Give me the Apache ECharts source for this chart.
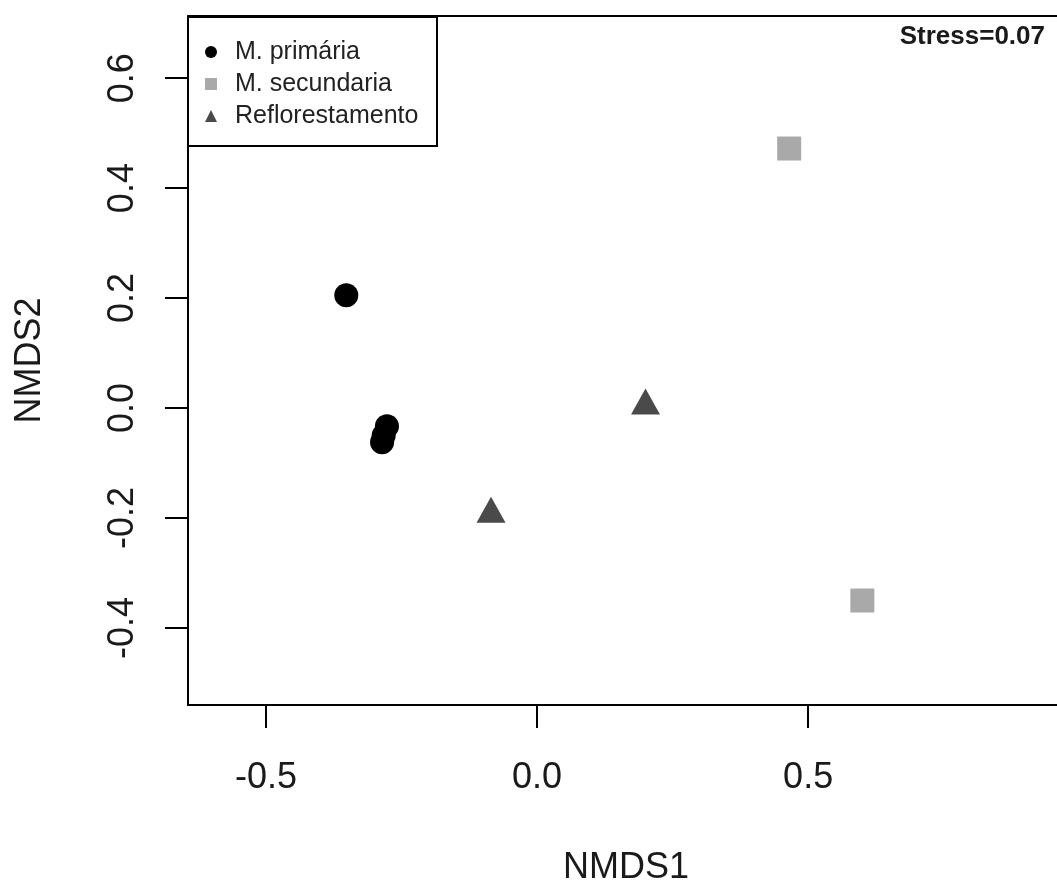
<!DOCTYPE html>
<html>
<head>
<meta charset="utf-8">
<script src="https://cdn.jsdelivr.net/npm/echarts@6/dist/echarts.min.js"></script>
<style>
html,body{margin:0;padding:0;background:#fff;overflow:hidden;}
#chart{width:1057px;height:882px;}
</style>
</head>
<body>
<div id="chart"></div>
<script>
// Data (NMDS1, NMDS2)
const primaria = [[-0.352, 0.205], [-0.277, -0.033], [-0.283, -0.050], [-0.286, -0.062]];
const secundaria = [[0.465, 0.472], [0.600, -0.350]];
const reflorestamento = [[0.200, 0.012], [-0.085, -0.185]];
const xTicks = [-0.5, 0.0, 0.5];
const yTicks = [-0.4, -0.2, 0.0, 0.2, 0.4, 0.6];
const seriesNames = ['M. primária', 'M. secundaria', 'Reflorestamento'];
const stressLabel = 'Stress=0.07';

const FONT = 'Liberation Sans, Arial, sans-serif';
const chart = echarts.init(document.getElementById('chart'), null, {renderer: 'canvas'});

const X_MIN = -0.644, X_MAX = 0.972;
const option = {
  backgroundColor: '#ffffff',
  animation: false,
  grid: {
    left: 188, top: 16, width: 876, bottom: 177,
    outerBoundsMode: 'none', containLabel: false, show: false
  },
  xAxis: [{
    type: 'value',
    min: X_MIN, max: X_MAX,
    name: 'NMDS1', nameLocation: 'middle', nameGap: 145,
    nameTextStyle: {fontFamily: FONT, fontSize: 36, color: '#1a1a1a'},
    axisLine: {show: true, onZero: false, lineStyle: {color: '#000', width: 2}},
    splitLine: {show: false},
    axisTick: {show: true, inside: false, length: 23, lineStyle: {color: '#000', width: 2}, customValues: xTicks},
    axisLabel: {
      customValues: xTicks, margin: 55, fontFamily: FONT, fontSize: 36, color: '#1a1a1a',
      formatter: v => v.toFixed(1)
    }
  }, {
    type: 'value', position: 'top',
    min: X_MIN, max: X_MAX,
    axisLine: {show: true, onZero: false, lineStyle: {color: '#000', width: 2}},
    splitLine: {show: false}, axisTick: {show: false}, axisLabel: {show: false}
  }],
  yAxis: {
    type: 'value',
    min: -0.54, max: 0.713,
    name: 'NMDS2', nameLocation: 'middle', nameGap: 140, nameRotate: 90,
    nameTextStyle: {fontFamily: FONT, fontSize: 36, color: '#1a1a1a'},
    axisLine: {show: true, onZero: false, lineStyle: {color: '#000', width: 2}},
    splitLine: {show: false},
    axisTick: {show: true, inside: false, length: 23, lineStyle: {color: '#000', width: 2}, customValues: yTicks},
    axisLabel: {
      customValues: yTicks, margin: 47, rotate: 90, fontFamily: FONT, fontSize: 36, color: '#1a1a1a',
      formatter: v => v.toFixed(1)
    }
  },
  legend: {
    orient: 'vertical',
    left: 205, top: 36, padding: 0,
    itemWidth: 12, itemHeight: 12, itemGap: 0,
    textStyle: {fontFamily: FONT, fontSize: 25, color: '#222', lineHeight: 32, padding: [0, 0, 0, 13]},
    data: seriesNames
  },
  graphic: [
    {type: 'rect', left: 187, top: 16, z: 5,
     shape: {width: 249, height: 129},
     style: {fill: 'rgba(255,255,255,0)', stroke: '#000', lineWidth: 2}},
    {type: 'text', right: 12, top: 24, z: 10,
     style: {text: stressLabel, fontFamily: FONT, fontSize: 26, fontWeight: 'bold', fill: '#1a1a1a'}}
  ],
  series: [
    {name: seriesNames[0], type: 'scatter', data: primaria, symbol: 'circle', symbolSize: 24,
     itemStyle: {color: '#000000', opacity: 1}},
    {name: seriesNames[1], type: 'scatter', data: secundaria, symbol: 'rect', symbolSize: 24,
     itemStyle: {color: '#a9a9a9', opacity: 1}},
    {name: seriesNames[2], type: 'scatter', data: reflorestamento, symbol: 'triangle', symbolSize: [29, 26],
     itemStyle: {color: '#4a4a4a', opacity: 1}}
  ]
};
chart.setOption(option);
</script>
</body>
</html>
